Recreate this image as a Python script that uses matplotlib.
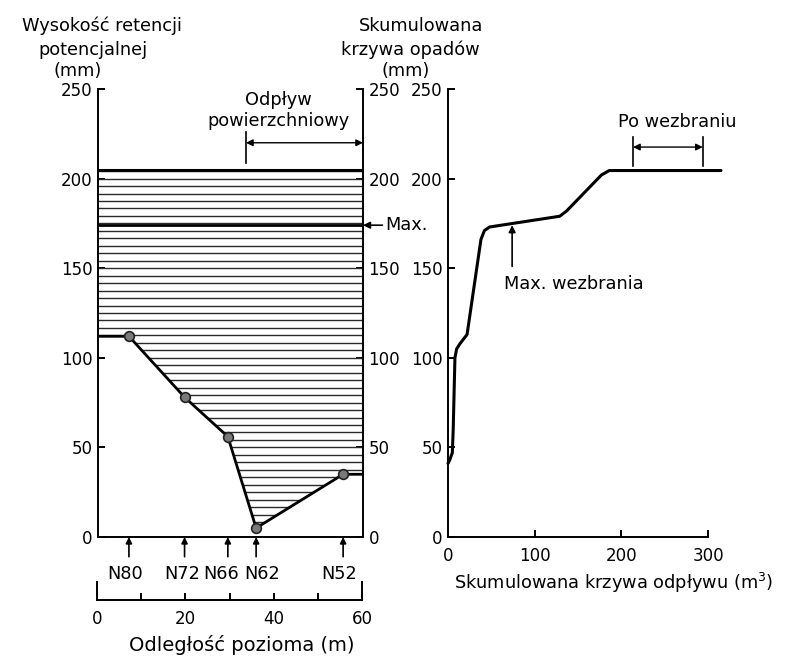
import matplotlib
matplotlib.use("Agg")
import matplotlib.pyplot as plt
import numpy as np
from matplotlib.patches import Polygon

plt.rcParams['font.family'] = ['DejaVu Sans']

# ---- data -------------------------------------------------------------
# cross-section: piezometer stations, horizontal distance (m) and ground level (mm)
stations = ["N80", "N72", "N66", "N62", "N52"]
station_dist = [7.0, 19.6, 29.4, 35.8, 55.5]
ground_level = [112, 78, 56, 5, 35]
water_top = 205          # top of the retention band (mm)
water_max = 174          # maximum level (mm)

# cumulative runoff (m3) vs cumulative rainfall (mm)
runoff = [0, 2, 5, 6, 7, 8, 10, 14, 22, 38, 42, 48, 129, 137, 177, 186, 315]
rainfall = [41, 43, 47, 60, 80, 100, 105, 108, 113, 166, 171, 173, 179, 182, 202, 204.5, 204.5]

y_ticks = [0, 50, 100, 150, 200, 250]
dist_ticks = [0, 20, 40, 60]
dist_minor = [10, 30, 50]
runoff_ticks = [0, 100, 200, 300]

W, H = 785, 656
fig = plt.figure(figsize=(W / 100, H / 100), dpi=100)


def fx(px):
    return px / W


def fy(py):
    return 1 - py / H


LW = 1.4
FS_T = 12
FS_L = 12.8

# ---- left panel: retention cross-section ------------------------------
axL = fig.add_axes([fx(98), fy(537), (363 - 98) / W, (537 - 89) / H])
axL.set_xlim(0, 60)
axL.set_ylim(0, 250)
axL.spines['top'].set_visible(False)
for s in ('left', 'right', 'bottom'):
    axL.spines[s].set_linewidth(LW)
axL.set_xticks([])
axL.set_yticks(y_ticks)
axL.tick_params(axis='y', direction='in', length=5, width=LW, labelsize=FS_T,
                left=True, right=True, labelleft=True, labelright=True, pad=4)

gx = [0] + station_dist + [60]
gy = [ground_level[0]] + ground_level + [ground_level[-1]]

# hatched water body between ground and the top level
poly = Polygon(list(zip(gx, gy)) + [(60, water_top), (0, water_top)],
               closed=True, facecolor='none', edgecolor='none')
axL.add_patch(poly)
hatch_y = np.arange(0, water_top, 50 / 12)
hl = axL.hlines(hatch_y, 0, 60, colors='#2a2a2a', linewidth=1.0)
hl.set_clip_path(poly)

axL.plot([0, 60], [water_top, water_top], color='black', lw=2.2)
axL.plot([0, 60], [water_max, water_max], color='black', lw=2.0)
axL.plot(gx, gy, color='black', lw=2.0, solid_joinstyle='round')
axL.plot(station_dist, ground_level, 'o', ms=7, mfc='#7a7a7a', mec='#222222', mew=1.2)

# station arrows and names below the section
label_x = [6.1, 19.0, 27.8, 37.1, 54.6]
for x, name, lx in zip(station_dist, stations, label_x):
    axL.annotate('', xy=(x, 0), xytext=(x, -11), xycoords='data',
                 arrowprops=dict(arrowstyle='-|>', color='black', lw=1.2,
                                 mutation_scale=9, shrinkA=0, shrinkB=0),
                 annotation_clip=False)
    axL.text(lx, -20.5, name, ha='center', va='center', fontsize=FS_L)

# Max. marker at the right edge
axL.annotate('Max.', xy=(60, water_max), xytext=(16, 0),
             textcoords='offset points', xycoords='data', ha='left', va='center',
             fontsize=FS_L,
             arrowprops=dict(arrowstyle='-|>', color='black', lw=1.2,
                             mutation_scale=10, shrinkA=0, shrinkB=0),
             annotation_clip=False)

# surface runoff dimension
axL.text(40.8, 238, 'Odpływ\npowierzchniowy', ha='center', va='center',
         fontsize=FS_L, linespacing=1.25)
axL.plot([33.5, 33.5], [208.7, 226], color='black', lw=1.2, clip_on=False)
axL.annotate('', xy=(60, 220), xytext=(33.5, 220),
             arrowprops=dict(arrowstyle='<|-|>', color='black', lw=1.0,
                             mutation_scale=10, shrinkA=0, shrinkB=0),
             annotation_clip=False)

# ---- distance scale under the section ---------------------------------
axS = fig.add_axes([fx(97), fy(600), (362 - 97) / W, 18 / H])
axS.set_xlim(0, 60)
axS.set_ylim(0, 1)
axS.spines['top'].set_visible(False)
for s in ('left', 'right', 'bottom'):
    axS.spines[s].set_linewidth(LW)
axS.set_yticks([])
axS.set_xticks(dist_ticks)
axS.set_xticks(dist_minor, minor=True)
axS.tick_params(axis='x', which='both', direction='in', length=5, width=LW,
                labelsize=FS_T, pad=7)
axS.patch.set_alpha(0)
fig.text(fx(242), fy(645), 'Odległość pozioma (m)', ha='center', va='center',
         fontsize=14)

# ---- right panel: cumulative curves -----------------------------------
axR = fig.add_axes([fx(448), fy(537), (708 - 448) / W, (537 - 89) / H])
axR.set_xlim(0, 300)
axR.set_ylim(0, 250)
axR.spines['top'].set_visible(False)
axR.spines['right'].set_visible(False)
for s in ('left', 'bottom'):
    axR.spines[s].set_linewidth(LW)
axR.set_xticks(runoff_ticks)
axR.set_yticks(y_ticks)
axR.tick_params(axis='both', direction='in', length=5, width=LW, labelsize=FS_T)
axR.tick_params(axis='y', pad=4)
axR.tick_params(axis='x', pad=7)
axR.plot(runoff, rainfall, color='black', lw=2.2, solid_joinstyle='round',
         solid_capstyle='round', clip_on=False)

axR.annotate('', xy=(74, 174), xytext=(74, 151),
             arrowprops=dict(arrowstyle='-|>', color='black', lw=1.2,
                             mutation_scale=10, shrinkA=0, shrinkB=0))
axR.text(145, 141, 'Max. wezbrania', ha='center', va='center', fontsize=FS_L)

axR.text(264, 231.5, 'Po wezbraniu', ha='center', va='center', fontsize=FS_L)
for xb in (213.5, 294):
    axR.plot([xb, xb], [207, 223], color='black', lw=1.2, clip_on=False)
axR.annotate('', xy=(294, 217.6), xytext=(213.5, 217.6),
             arrowprops=dict(arrowstyle='<|-|>', color='black', lw=1.0,
                             mutation_scale=10, shrinkA=0, shrinkB=0),
             annotation_clip=False)

fig.text(fx(614), fy(583), 'Skumulowana krzywa odpływu (m$^3$)', ha='center',
         va='center', fontsize=FS_L)

# ---- axis titles ------------------------------------------------------
fig.text(fx(102), fy(26), 'Wysokość retencji', ha='center', va='center', fontsize=FS_L)
fig.text(fx(93), fy(50), 'potencjalnej', ha='center', va='center', fontsize=FS_L)
fig.text(fx(78), fy(71), '(mm)', ha='center', va='center', fontsize=FS_L)

fig.text(fx(421), fy(26), 'Skumulowana', ha='center', va='center', fontsize=FS_L)
fig.text(fx(410), fy(50), 'krzywa opadów', ha='center', va='center', fontsize=FS_L)
fig.text(fx(406), fy(71), '(mm)', ha='center', va='center', fontsize=FS_L)

fig.savefig('out.png', dpi=100, facecolor='white')
